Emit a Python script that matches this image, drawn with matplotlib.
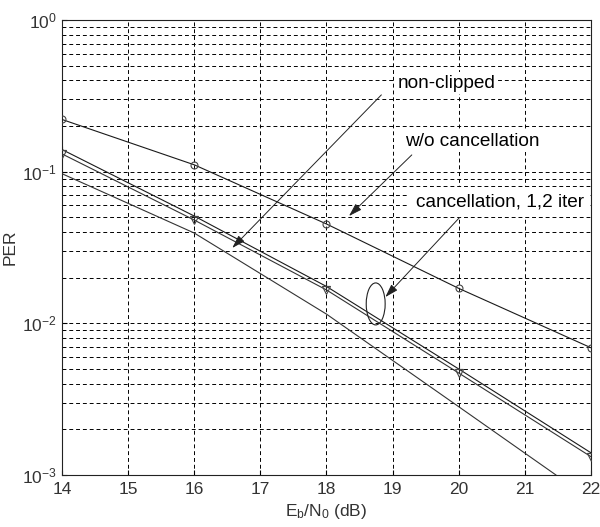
import numpy as np
import matplotlib
matplotlib.use("Agg")
import matplotlib.pyplot as plt
from matplotlib.patches import Ellipse

plt.rcParams['font.family'] = ['Liberation Sans', 'DejaVu Sans']
plt.rcParams['mathtext.fontset'] = 'custom'
plt.rcParams['mathtext.rm'] = 'Liberation Sans'
plt.rcParams['mathtext.it'] = 'Liberation Sans'
plt.rcParams['mathtext.default'] = 'regular'

# Data
ebn0 = [14, 16, 18, 20, 22]
per_wo_cancel = [0.221, 0.111, 0.0452, 0.0170, 0.0069]
per_cancel_1 = [0.140, 0.051, 0.0175, 0.0050, 0.00140]
per_cancel_2 = [0.131, 0.048, 0.0166, 0.0047, 0.00132]
ebn0_nonclip = [14, 16, 18, 20, 21.47]
per_nonclip = [0.097, 0.0394, 0.0115, 0.00282, 0.0010]
x_ticks = [14, 15, 16, 17, 18, 19, 20, 21, 22]

fig = plt.figure(figsize=(6.0, 5.27), dpi=100)
ax = fig.add_axes([0.1033, 0.0987, 0.8817, 0.8633])

lc = '#1a1a1a'
ax.semilogy(ebn0, per_wo_cancel, '-', color=lc, lw=0.8, marker='o', ms=5,
            mfc='none', mec='#444444', mew=0.8, zorder=3)
ax.semilogy(ebn0, per_cancel_1, '-', color=lc, lw=0.8, marker='+', ms=5.5,
            mec='#222222', mew=0.8, zorder=3)
ax.semilogy(ebn0, per_cancel_2, '-', color='#333333', lw=0.8, marker='v', ms=5.5,
            mfc='none', mec='#444444', mew=0.8, zorder=3)
ax.semilogy(ebn0_nonclip, per_nonclip, '-', color='#333333', lw=0.8, zorder=3)

ax.set_xlim(14, 22)
ax.set_ylim(1e-3, 1)
ax.set_xticks(x_ticks)
ax.grid(True, which='major', axis='both', color='black', linestyle=(0, (4, 3)), lw=0.7)
ax.grid(True, which='minor', axis='y', color='black', linestyle=(0, (4, 3)), lw=0.7)
ax.tick_params(which='both', direction='in', labelsize=12.5, labelcolor='#333333')
ax.tick_params(axis='x', pad=5)
for s in ax.spines.values():
    s.set_linewidth(0.8)
    s.set_color('#222222')

ax.set_xlabel('E$_b$/N$_0$ (dB)', fontsize=12.5, color='#333333', labelpad=4)
ax.set_ylabel('PER', fontsize=12.5, color='#333333', labelpad=3)

bbox = dict(boxstyle='square,pad=0.15', fc='white', ec='none')
arrowprops = dict(arrowstyle='-|>,head_length=0.8,head_width=0.25', color='#222222',
                  lw=0.7, shrinkA=0, shrinkB=0)

ax.text(19.81, 0.384, 'non-clipped', fontsize=13.7, ha='center', va='center',
        bbox=bbox, zorder=5, clip_on=False)
ax.text(20.21, 0.159, 'w/o cancellation', fontsize=13.7, ha='center', va='center',
        bbox=bbox, zorder=5, clip_on=False)
ax.text(20.62, 0.0631, 'cancellation, 1,2 iter', fontsize=13.7, ha='center', va='center',
        bbox=dict(boxstyle='square,pad=0.35', fc='white', ec='none'), zorder=5, clip_on=False)

ax.annotate('', xy=(16.575, 0.0314), xytext=(18.83, 0.321), arrowprops=arrowprops, zorder=4)
ax.annotate('', xy=(18.34, 0.0510), xytext=(19.29, 0.129), arrowprops=arrowprops, zorder=4)
ax.annotate('', xy=(18.89, 0.0149), xytext=(20.02, 0.0503), arrowprops=arrowprops, zorder=4)

ell = Ellipse((0.593, 0.376), 0.0358, 0.0923, transform=ax.transAxes,
              fill=False, ec='#222222', lw=0.8, zorder=4)
ax.add_patch(ell)

fig.savefig('out.png', dpi=100)
